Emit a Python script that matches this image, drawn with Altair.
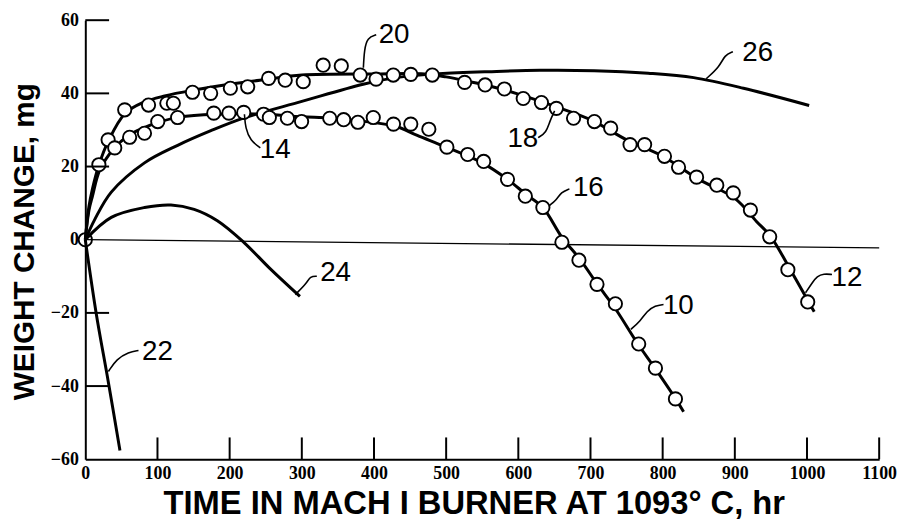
import altair as alt
import pandas as pd

# ---------------- data ----------------
x_ticks = [0, 100, 200, 300, 400, 500, 600, 700, 800, 900, 1000, 1100]
y_ticks = [-60, -40, -20, 0, 20, 40, 60]
x_inner_ticks = [100, 200, 300, 400, 500, 600, 700, 800, 900, 1000, 1100]
y_inner_ticks = [60, 40, 20, -20, -40]

# upper specimen (20 / 18 / 12) measured points
upper_x = [18.8, 31.6, 54.6, 87.6, 113, 122, 148.5, 173.7, 201, 225, 254, 277, 302,
           329.6, 354.7, 380.9, 402.9, 426.7, 451, 480.8, 525.6, 554, 580.7, 606.8,
           632, 652.7, 676.5, 705.4, 728, 754.8, 775, 802.5, 822, 847, 875, 897.8,
           921.6, 948.3, 973.5, 1001]
upper_y = [20.5, 27.3, 35.5, 36.8, 37.3, 37.3, 40.3, 40, 41.4, 41.8, 44.1, 43.6, 43.2,
           47.7, 47.5, 45, 43.9, 45, 45.2, 45, 43, 42.3, 41.2, 38.6,
           37.5, 35.9, 33.2, 32.3, 30.5, 26, 26, 22.8, 19.8, 17.1, 14.9, 12.8,
           8.1, 0.8, -8.2, -17]

# lower specimen (14 / 16 / 10) measured points
lower_x = [40.8, 61.4, 82, 100.4, 127.9, 178, 199, 219.5, 247, 255, 280, 299.7, 338.7,
           358, 377.7, 399, 427, 451, 476, 501, 529.8, 552, 585, 609.7, 634, 660.4,
           684, 709, 734.5, 766.8, 790, 817.7]
lower_y = [25.1, 28, 29.1, 32.3, 33.4, 34.6, 34.6, 34.8, 34.3, 33.4, 33.2, 32.3, 33.2,
           32.8, 32.1, 33.4, 31.6, 31.6, 30.2, 25.3, 23.3, 21.4, 16.5, 11.9, 8.8, -0.7,
           -5.6, -12.2, -17.5, -28.5, -35.1, -43.5]

origin_x = [0]
origin_y = [0]

# fitted curves
upper_line_x = [0, 5, 10, 19, 32, 55, 80, 110, 150, 200, 250, 300, 400, 470, 500, 530,
                560, 600, 650, 700, 750, 800, 850, 900, 930, 950, 975, 1010]
upper_line_y = [0, 9, 14, 20.5, 27, 34.5, 37.5, 39.3, 40.9, 42.5, 43.8, 45, 45.3, 45.3,
                44.5, 43.3, 42, 39.8, 36.5, 32.8, 27.3, 22.8, 16.5, 11.3, 5, 0.8, -7.5, -19.7]
lower_line_x = [0, 5, 10, 20, 40, 60, 80, 100, 130, 180, 250, 300, 340, 400, 430, 460,
                500, 550, 585, 610, 634, 660, 686, 710, 735, 765, 790, 818, 829]
lower_line_y = [0, 8, 12, 19, 25, 28.5, 30.5, 32, 33.5, 34.3, 34.3, 33.6, 33.3, 32, 31,
                28.5, 25.3, 21, 16.5, 12.5, 8.8, 0.8, -5.5, -12.3, -19, -28.3, -35.3, -43.5, -47]
c26_x = [0, 13, 36, 82, 128, 174, 220, 300, 385, 430, 490, 570, 630, 705, 780, 843, 912, 1003]
c26_y = [0, 5.5, 13, 21, 25.8, 29.8, 33.3, 37.8, 42.5, 44.3, 45.4, 46, 46.3, 46.2, 45.5, 44.3, 41.4, 36.7]
c24_x = [0, 36, 82, 118.7, 150.8, 183, 219.6, 256, 297.4]
c24_y = [0, 6.1, 8.8, 9.5, 8.3, 5.2, -0.7, -7.9, -15.5]
c22_x = [0, 15, 32, 48]
c22_y = [0, -20, -39, -57.6]

zero_line = {"x": [0], "x2": [1100], "y": [0], "y2": [-2.2]}

# reference numerals
label_text = ["20", "26", "14", "18", "16", "24", "22", "10", "12"]
label_x = [427.9, 931.6, 263.2, 606.3, 697, 346.8, 100, 821.7, 1055.3]
label_y = [56.0, 51.1, 24.6, 27.6, 14.0, -9.2, -30.7, -18.1, -10.6]

# leader lines (label -> curve)
leader_label = ["20", "26", "14", "18", "16", "24", "22", "10", "12"]
leader_x = [[403.1, 390.8, 386.6, 385.3],
            [897.3, 885.9, 879.0, 860.3],
            [242.5, 228.8, 221.9, 220.5],
            [627.5, 638.9, 643.5, 650.3],
            [670.8, 659.4, 652.5, 643.4],
            [320.8, 311.6, 307.1, 291.0],
            [73.7, 60.0, 43.5, 32.0],
            [801.2, 789.8, 778.3, 769.2, 756.0],
            [1034.6, 1023.2, 1014.0, 1007.0, 998.0]]
leader_y = [[56.0, 55.2, 51.9, 47.0],
            [51.4, 50.5, 47.3, 44.0],
            [25.1, 27.1, 30.5, 34.3],
            [27.9, 29.3, 32.4, 35.2],
            [13.9, 13.0, 10.8, 9.4],
            [-10.0, -10.0, -11.8, -15.0],
            [-30.3, -30.7, -32.6, -36.0],
            [-17.7, -18.0, -19.5, -22.2, -24.5],
            [-9.5, -9.3, -10.0, -11.8, -14.5]]

# ---------------- tables ----------------
def curve(name, xs, ys):
    return pd.DataFrame({"curve": name, "x": xs, "y": ys})

lines_df = pd.concat([
    curve("upper", upper_line_x, upper_line_y),
    curve("lower", lower_line_x, lower_line_y),
    curve("26", c26_x, c26_y),
    curve("24", c24_x, c24_y),
    curve("22", c22_x, c22_y),
], ignore_index=True)

pts_df = pd.concat([
    pd.DataFrame({"x": upper_x, "y": upper_y}),
    pd.DataFrame({"x": lower_x, "y": lower_y}),
], ignore_index=True)
origin_df = pd.DataFrame({"x": origin_x, "y": origin_y})
zero_df = pd.DataFrame(zero_line)
labels_df = pd.DataFrame({"t": label_text, "x": label_x, "y": label_y})
rows = []
for lab, lx, ly in zip(leader_label, leader_x, leader_y):
    for i, (a, b) in enumerate(zip(lx, ly)):
        rows.append({"lab": lab, "i": i, "x": a, "y": b})
leader_df = pd.DataFrame(rows)
xt_df = pd.DataFrame({"v": x_inner_ticks})
yt_df = pd.DataFrame({"v": y_inner_ticks})

# ---------------- chart ----------------
W, H = 801, 443
xs = alt.Scale(domain=[0, 1100], nice=False, zero=False)
ys = alt.Scale(domain=[-60, 60], nice=False, zero=False)

x_axis = alt.Axis(values=x_ticks, format="d", grid=False, ticks=False, tickSize=0,
                  labelFont="Liberation Serif", labelFontSize=18, labelFontWeight="bold",
                  labelColor="black", labelPadding=5, labelFlush=False,
                  domainColor="black", domainWidth=2,
                  title="TIME IN MACH I BURNER AT 1093° C, hr",
                  titleFont="Liberation Sans", titleFontSize=33, titleFontWeight="bold",
                  titleColor="black", titleX=392, titleY=55, titleBaseline="alphabetic",
                  titleAlign="center")
y_axis = alt.Axis(values=y_ticks, format="d", grid=False, ticks=False, tickSize=0,
                  labelFont="Liberation Serif", labelFontSize=18, labelFontWeight="bold",
                  labelColor="black", labelPadding=7, labelFlush=False,
                  domainColor="black", domainWidth=2,
                  title="WEIGHT CHANGE, mg",
                  titleFont="Liberation Sans", titleFontSize=30, titleFontWeight="bold",
                  titleColor="black", titleX=-52, titleY=223, titleBaseline="alphabetic",
                  titleAlign="center", titleAngle=270)

X = alt.X("x:Q", scale=xs, axis=x_axis)
Y = alt.Y("y:Q", scale=ys, axis=y_axis)

zero = alt.Chart(zero_df).mark_rule(color="black", strokeWidth=1.3).encode(
    x=X, x2="x2:Q", y=Y, y2="y2:Q")

lines = alt.Chart(lines_df).mark_line(color="black", strokeWidth=3,
                                      interpolate="catmull-rom").encode(
    x=X, y=Y, detail="curve:N")

circles = alt.Chart(pts_df).mark_circle(size=180, fill="white", fillOpacity=1,
                                        stroke="black", strokeWidth=1.9, opacity=1).encode(
    x=X, y=Y)

origin = alt.Chart(origin_df).mark_point(shape="circle", size=180, filled=False,
                                         color="black", strokeWidth=1.9, opacity=1).encode(
    x=X, y=Y)

leaders = alt.Chart(leader_df).mark_line(color="black", strokeWidth=1.6,
                                         interpolate="basis").encode(
    x=X, y=Y, detail="lab:N", order="i:Q")

labels = alt.Chart(labels_df).mark_text(font="Liberation Sans", fontSize=28,
                                        color="black", align="center",
                                        baseline="middle").encode(
    x=X, y=Y, text="t:N")

xticks = alt.Chart(xt_df).mark_rule(color="black", strokeWidth=2).encode(
    x=alt.X("v:Q", scale=xs, axis=x_axis), y=alt.value(H), y2=alt.value(H - 22))
yticks = alt.Chart(yt_df).mark_rule(color="black", strokeWidth=2).encode(
    y=alt.Y("v:Q", scale=ys, axis=y_axis), x=alt.value(0), x2=alt.value(24))

chart = alt.layer(zero, lines, circles, origin, leaders, labels, xticks, yticks).properties(
    width=W, height=H,
    autosize=alt.AutoSizeParams(type="none"),
    padding={"left": 78, "top": 10, "right": 19, "bottom": 60},
    background="white",
).configure_view(strokeWidth=0)

chart.save("out.html", embed_options={"renderer": "svg", "actions": False})
